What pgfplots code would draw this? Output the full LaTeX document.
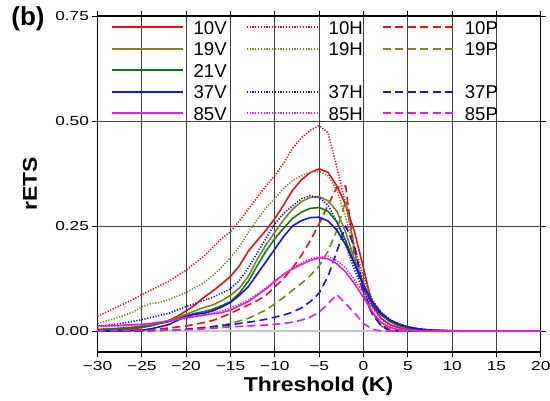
\documentclass[border=0pt]{standalone}
\usepackage{fontspec}
\setmainfont{Liberation Sans}
\newfontfamily\tickfont[FakeStretch=1.33]{Liberation Sans}
\newfontfamily\labfont[FakeStretch=1.15]{Liberation Sans}
\usepackage{pgfplots}
\pgfplotsset{compat=1.18}
\definecolor{cR}{RGB}{228,20,20}
\definecolor{cO}{RGB}{128,128,40}
\definecolor{cG}{RGB}{20,120,20}
\definecolor{cB}{RGB}{20,20,220}
\definecolor{cM}{RGB}{225,30,225}
\begin{document}
\begin{tikzpicture}
\begin{axis}[
  scale only axis, width=443.3pt, height=336pt,
  xmin=-30, xmax=20, ymin=-0.05, ymax=0.75,
  axis line style={line width=1.1pt},
  tick align=outside, major tick length=5pt,
  tick style={black, line width=0.8pt},
  xtick={-30,-25,...,20},
  xticklabels={−30,−25,−20,−15,−10,−5,0,5,10,15,20},
  ytick={0.25,0.5,0.75},
  yticklabels={0.25,0.50,0.75},
  extra y ticks={0}, extra y tick labels={0.00},
  extra y tick style={major grid style={black!22, line width=2pt}},
  ticklabel style={font=\tickfont\fontsize{13}{15}\selectfont},
  xticklabel style={yshift=-1pt},
  grid=major, major grid style={black!75, line width=0.7pt},
  legend columns=3,
  legend cell align=left,
  legend image code/.code={\draw[#1, line width=2pt] (0pt,0pt) -- (71pt,0pt);},
  legend style={draw=none, fill=none, at={(axis description cs:0.0296,0.986)}, anchor=north west,
    inner sep=0pt, outer sep=0pt, row sep=8.2pt, column sep=10pt,
    /tikz/every even column/.append style={column sep=19pt},
    font=\fontsize{18.6}{20}\selectfont,
    nodes={inner sep=0pt, text height=13.3pt, text depth=0pt}},
  every axis plot/.append style={line width=1.6pt, line join=round},
]
% 10V
\addplot[color=cR, solid] coordinates {(-30,0.0)(-28,0.002)(-26,0.005)(-24,0.012)(-22,0.025)(-21,0.035)(-20,0.048)(-19,0.062)(-18,0.08)(-17,0.095)(-16,0.112)(-15,0.13)(-14,0.155)(-13,0.19)(-12,0.215)(-11,0.24)(-10,0.268)(-9,0.30)(-8,0.335)(-7,0.36)(-6,0.377)(-5,0.386)(-4,0.378)(-3,0.345)(-2,0.30)(-1,0.235)(0,0.15)(1,0.06)(2,0.03)(3,0.015)(4,0.008)(5,0.004)(6,0.002)(8,0.001)(10,0)(20,0)};
\addlegendentry{10V}
% 10H
\addplot[color=cR, dash pattern=on 1.2pt off 1.6pt] coordinates {(-30,0.035)(-28,0.055)(-26,0.075)(-25,0.087)(-24,0.097)(-22,0.118)(-20,0.145)(-18,0.178)(-16,0.22)(-15,0.236)(-14,0.262)(-13,0.29)(-12,0.318)(-11,0.345)(-10,0.37)(-9,0.40)(-8,0.435)(-7,0.46)(-6,0.478)(-5,0.489)(-4,0.472)(-3,0.39)(-2,0.30)(-1,0.20)(0,0.13)(1,0.075)(2,0.043)(3,0.025)(4,0.015)(5,0.009)(6,0.005)(8,0.002)(10,0.001)(12,0)(20,0)};
\addlegendentry{10H}
% 10P
\addplot[color=cR, dash pattern=on 8pt off 4.5pt] coordinates {(-30,0.0)(-28,0.001)(-26,0.002)(-25,0.003)(-24,0.004)(-22,0.007)(-20,0.012)(-18,0.02)(-17,0.025)(-16,0.033)(-15,0.042)(-14,0.052)(-13,0.062)(-12,0.072)(-11,0.085)(-10,0.105)(-9,0.125)(-8,0.15)(-7,0.18)(-6,0.215)(-5,0.255)(-4,0.30)(-3,0.342)(-2,0.345)(-1,0.175)(0,0.085)(1,0.04)(2,0.015)(3,0.003)(4,0)(20,0)};
\addlegendentry{10P}
% 19V
\addplot[color=cO, solid] coordinates {(-30,0.004)(-28,0.006)(-26,0.009)(-25,0.011)(-24,0.015)(-22,0.024)(-20,0.04)(-19,0.048)(-18,0.056)(-17,0.062)(-16,0.072)(-15,0.085)(-14,0.102)(-13,0.13)(-12,0.17)(-11,0.205)(-10,0.235)(-9,0.265)(-8,0.29)(-7,0.308)(-6,0.318)(-5,0.32)(-4,0.31)(-3,0.285)(-2,0.235)(-1,0.17)(0,0.11)(1,0.065)(2,0.04)(3,0.023)(4,0.013)(5,0.007)(6,0.004)(8,0.001)(10,0)(20,0)};
\addlegendentry{19V}
% 19H
\addplot[color=cO, dash pattern=on 1.2pt off 1.6pt] coordinates {(-30,0.018)(-28,0.03)(-26,0.045)(-25,0.058)(-24,0.065)(-23,0.068)(-22,0.075)(-21,0.083)(-20,0.092)(-19,0.103)(-18,0.115)(-17,0.132)(-16,0.152)(-15,0.175)(-14,0.2)(-13,0.235)(-12,0.265)(-11,0.293)(-10,0.315)(-9,0.34)(-8,0.358)(-7,0.37)(-6,0.378)(-5,0.38)(-4,0.37)(-3,0.335)(-2,0.27)(-1,0.19)(0,0.12)(1,0.072)(2,0.045)(3,0.027)(4,0.016)(5,0.009)(6,0.005)(8,0.002)(10,0)(20,0)};
\addlegendentry{19H}
% 19P
\addplot[color=cO, dash pattern=on 8pt off 4.5pt] coordinates {(-30,0.0)(-25,0.001)(-22,0.002)(-20,0.004)(-18,0.008)(-16,0.014)(-15,0.018)(-14,0.024)(-13,0.03)(-12,0.04)(-11,0.05)(-10,0.065)(-9,0.08)(-8,0.097)(-7,0.113)(-6,0.132)(-5,0.155)(-4,0.19)(-3,0.24)(-2,0.31)(-1,0.19)(0,0.1)(1,0.045)(2,0.012)(3,0)(20,0)};
\addlegendentry{19P}
% 21V
\addplot[color=cG, solid] coordinates {(-30,0.003)(-28,0.005)(-26,0.008)(-25,0.01)(-24,0.013)(-22,0.022)(-20,0.036)(-19,0.042)(-18,0.046)(-17,0.052)(-16,0.06)(-15,0.07)(-14,0.09)(-13,0.118)(-12,0.155)(-11,0.19)(-10,0.22)(-9,0.245)(-8,0.268)(-7,0.283)(-6,0.292)(-5,0.294)(-4,0.285)(-3,0.26)(-2,0.215)(-1,0.16)(0,0.105)(1,0.063)(2,0.038)(3,0.022)(4,0.013)(5,0.007)(6,0.004)(8,0.001)(10,0)(20,0)};
\addlegendentry{21V}
\addlegendimage{legend image code/.code={}}
\addlegendentry{}
\addlegendimage{legend image code/.code={}}
\addlegendentry{}
% 37V
\addplot[color=cB, solid] coordinates {(-30,0.0)(-28,0.0)(-26,0.001)(-25,0.002)(-24,0.005)(-22,0.015)(-20,0.035)(-19,0.04)(-18,0.042)(-17,0.048)(-16,0.057)(-15,0.068)(-14,0.085)(-13,0.105)(-12,0.135)(-11,0.165)(-10,0.195)(-9,0.225)(-8,0.25)(-7,0.263)(-6,0.27)(-5,0.271)(-4,0.262)(-3,0.24)(-2,0.205)(-1,0.16)(0,0.11)(1,0.07)(2,0.043)(3,0.026)(4,0.016)(5,0.01)(6,0.006)(7,0.003)(8,0.002)(10,0)(20,0)};
\addlegendentry{37V}
% 37H
\addplot[color=cB, dash pattern=on 1.2pt off 1.6pt] coordinates {(-30,0.011)(-28,0.016)(-26,0.023)(-25,0.027)(-24,0.032)(-22,0.042)(-20,0.058)(-18,0.073)(-17,0.08)(-16,0.09)(-15,0.1)(-14,0.12)(-13,0.15)(-12,0.185)(-11,0.22)(-10,0.255)(-9,0.28)(-8,0.298)(-7,0.315)(-6,0.322)(-5,0.318)(-4,0.30)(-3,0.26)(-2,0.205)(-1,0.145)(0,0.095)(1,0.06)(2,0.04)(3,0.026)(4,0.017)(5,0.01)(6,0.006)(7,0.003)(8,0.002)(10,0.001)(12,0)(20,0)};
\addlegendentry{37H}
% 37P
\addplot[color=cB, dash pattern=on 8pt off 4.5pt] coordinates {(-30,0.0)(-25,0.0)(-20,0.004)(-18,0.008)(-16,0.012)(-15,0.015)(-14,0.018)(-13,0.021)(-12,0.024)(-11,0.028)(-10,0.033)(-9,0.038)(-8,0.045)(-7,0.055)(-6,0.07)(-5,0.09)(-4,0.13)(-3,0.19)(-2,0.25)(-1,0.2)(0,0.1)(1,0.04)(2,0.012)(3,0)(20,0)};
\addlegendentry{37P}
% 85V
\addplot[color=cM, solid] coordinates {(-30,0.012)(-28,0.013)(-26,0.015)(-25,0.016)(-24,0.018)(-22,0.024)(-20,0.032)(-18,0.038)(-16,0.044)(-15,0.05)(-14,0.06)(-13,0.07)(-12,0.085)(-11,0.1)(-10,0.118)(-9,0.135)(-8,0.148)(-7,0.158)(-6,0.168)(-5,0.174)(-4,0.172)(-3,0.16)(-2,0.14)(-1,0.112)(0,0.08)(1,0.045)(2,0.02)(3,0.008)(4,0.003)(5,0.001)(6,0)(20,0)};
\addlegendentry{85V}
% 85H
\addplot[color=cM, dash pattern=on 1.2pt off 1.6pt] coordinates {(-30,0.01)(-25,0.014)(-20,0.03)(-18,0.038)(-16,0.048)(-15,0.055)(-14,0.064)(-13,0.074)(-12,0.088)(-11,0.103)(-10,0.12)(-9,0.135)(-8,0.15)(-7,0.162)(-6,0.172)(-5,0.177)(-4,0.178)(-3,0.168)(-2,0.15)(-1,0.122)(0,0.09)(1,0.055)(2,0.028)(3,0.012)(4,0.005)(5,0.002)(6,0.001)(8,0)(20,0)};
\addlegendentry{85H}
% 85P
\addplot[color=cM, dash pattern=on 8pt off 4.5pt] coordinates {(-30,0.0)(-25,0.001)(-20,0.003)(-18,0.005)(-16,0.008)(-15,0.01)(-14,0.011)(-13,0.012)(-12,0.013)(-11,0.014)(-10,0.016)(-9,0.018)(-8,0.021)(-7,0.026)(-6,0.033)(-5,0.045)(-4,0.065)(-3,0.087)(-2,0.065)(-1,0.043)(0,0.018)(1,0.004)(2,0)(20,0)};
\addlegendentry{85P}
\end{axis}
\node[font=\bfseries\fontsize{26}{28}\selectfont] at (-69.5pt,333pt) {(b)};
\node[rotate=90, font=\labfont\bfseries\fontsize{20}{22}\selectfont] at (-67.5pt,168pt) {rETS};
\node[anchor=base, font=\labfont\bfseries\fontsize{20}{22}\selectfont] at (221pt,-39pt) {Threshold (K)};
\pgfresetboundingbox
\useasboundingbox (-97.5pt,-48pt) rectangle (452.5pt,352pt);
\end{tikzpicture}
\end{document}
